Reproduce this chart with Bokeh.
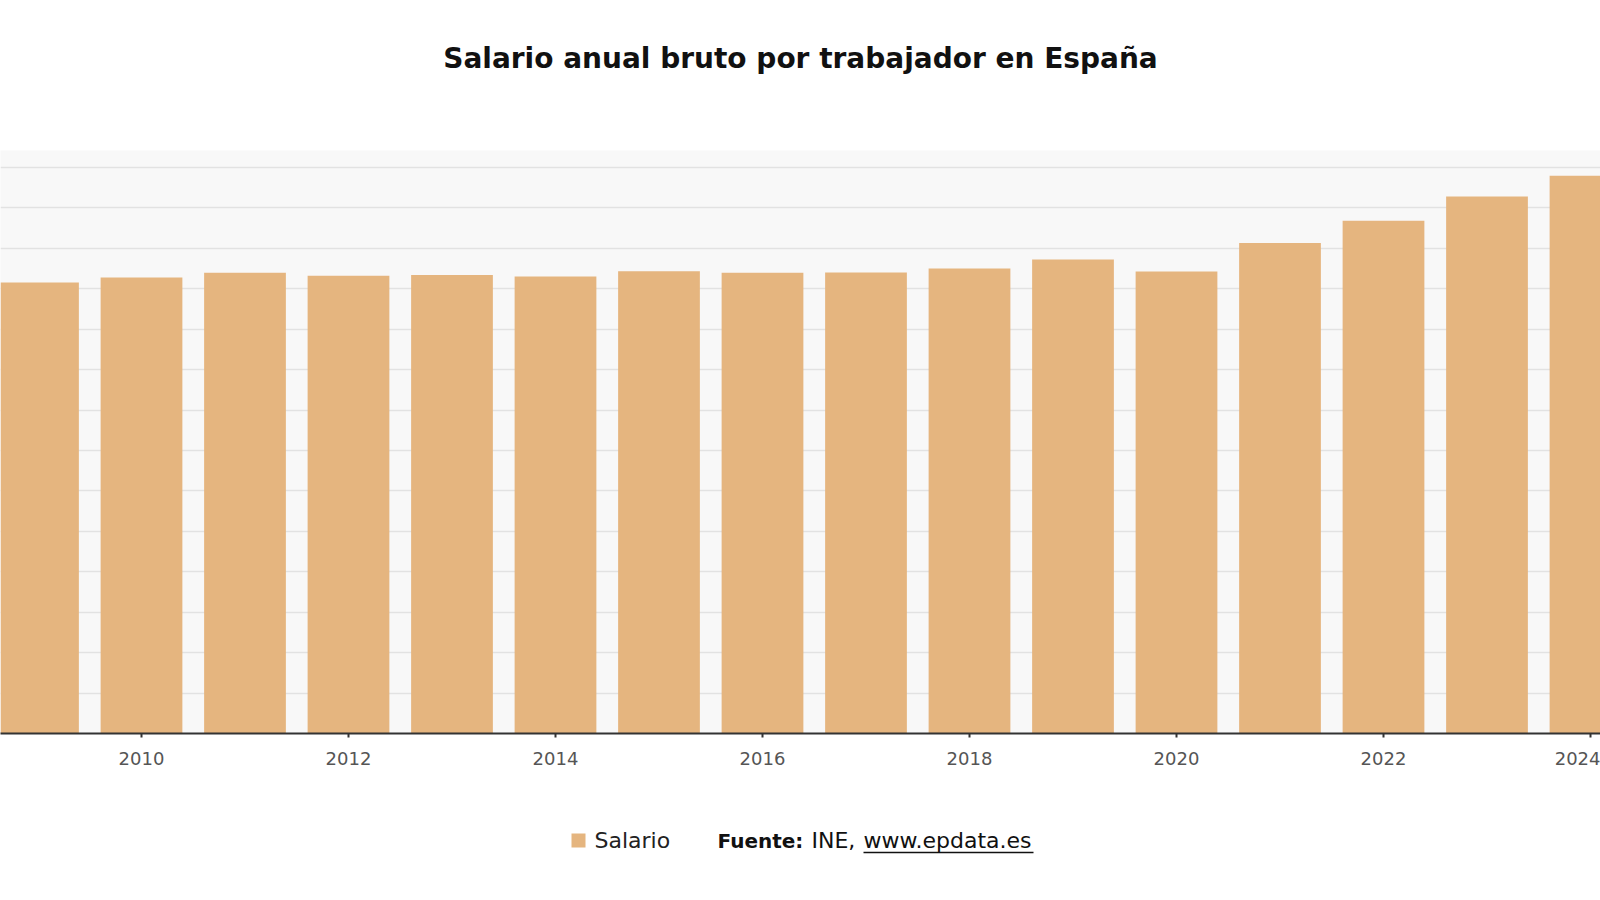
from bokeh.plotting import figure
from bokeh.layouts import column
from bokeh.models import Range1d, FixedTicker
from bokeh.core.properties import value
from bokeh.embed import file_html
from bokeh.resources import INLINE

# Salario anual bruto por trabajador (euros)
years = [2009, 2010, 2011, 2012, 2013, 2014, 2015, 2016,
         2017, 2018, 2019, 2020, 2021, 2022, 2023, 2024]
salario = [22310, 22560, 22790, 22640, 22680, 22610, 22870, 22790,
           22800, 23000, 23450, 22850, 24260, 25360, 26560, 27590]
tick_years = [2010, 2012, 2014, 2016, 2018, 2020, 2022, 2024]
grid_values = list(range(0, 30000, 2000))

title_text = "Salario anual bruto por trabajador en España"
series_name = "Salario"
source_parts = ["Fuente:", "INE,", "www.epdata.es"]

BAR = "#e5b57f"
W = 1600
HEAD_H = 150          # title band
FRAME_H = 583         # chart frame
AXIS_H = 57           # x axis band
FOOT_H = 900 - HEAD_H - FRAME_H - AXIS_H
X0, X1 = 2008.6377, 2024.0966
Y0, Y1 = 0, 28840
FONT = "DejaVu Sans"


def blank(height):
    f = figure(width=W, height=height, output_backend="svg", toolbar_location=None,
               x_range=Range1d(0, W), y_range=Range1d(height, 0),
               x_axis_location=None, y_axis_location=None,
               min_border=0, outline_line_color=None)
    f.grid.visible = False
    f.background_fill_color = "white"
    f.border_fill_color = "white"
    return f


# title band
head = blank(HEAD_H)
head.text(x=[800], y=[58], text=[title_text], text_font=value(FONT),
          text_font_style="bold", text_font_size=value("28px"), text_color="#111111",
          text_align="center", text_baseline="middle")

# main chart
p = figure(width=W, height=FRAME_H + AXIS_H, output_backend="svg", toolbar_location=None,
           x_range=Range1d(X0, X1), y_range=Range1d(Y0, Y1),
           y_axis_location=None,
           min_border_left=0, min_border_right=0,
           min_border_top=0, min_border_bottom=AXIS_H)
p.outline_line_color = None
p.background_fill_color = "#f8f8f8"
p.border_fill_color = "white"

p.vbar(x=years, top=salario, bottom=0, width=0.79, fill_color=BAR, line_color=None)

p.xgrid.visible = False
p.ygrid.ticker = FixedTicker(ticks=grid_values)
p.ygrid.grid_line_color = "#e2e2e2"
p.ygrid.grid_line_width = 1.5

ax = p.xaxis[0]
ax.ticker = FixedTicker(ticks=tick_years)
ax.axis_line_color = "#333333"
ax.axis_line_width = 2
ax.major_tick_line_color = "#333333"
ax.major_tick_line_width = 2
ax.major_tick_in = 0
ax.major_tick_out = 4
ax.minor_tick_line_color = None
ax.major_label_text_font = FONT
ax.major_label_text_font_size = "18px"
ax.major_label_text_color = "#555555"
ax.major_label_standoff = 14

# legend and source band
foot = blank(FOOT_H)
fy = 50
foot.rect(x=[578], y=[fy], width=14, height=14, fill_color=BAR, line_color=None)
foot.text(x=[594], y=[fy], text=[series_name], text_font=value(FONT),
          text_font_size=value("22px"), text_color="#222222",
          text_align="left", text_baseline="middle")
foot.text(x=[717], y=[fy], text=[source_parts[0]], text_font=value(FONT),
          text_font_style="bold", text_font_size=value("20px"), text_color="#111111",
          text_align="left", text_baseline="middle")
foot.text(x=[811, 863], y=[fy, fy], text=source_parts[1:], text_font=value(FONT),
          text_font_size=value("22px"), text_color="#111111",
          text_align="left", text_baseline="middle")
# link underline
foot.segment(x0=[863], x1=[1033], y0=[fy + 12], y1=[fy + 12],
             line_color="#111111", line_width=1.5)

layout = column(head, p, foot, spacing=0)
open("out.html", "w").write(file_html(layout, INLINE))
